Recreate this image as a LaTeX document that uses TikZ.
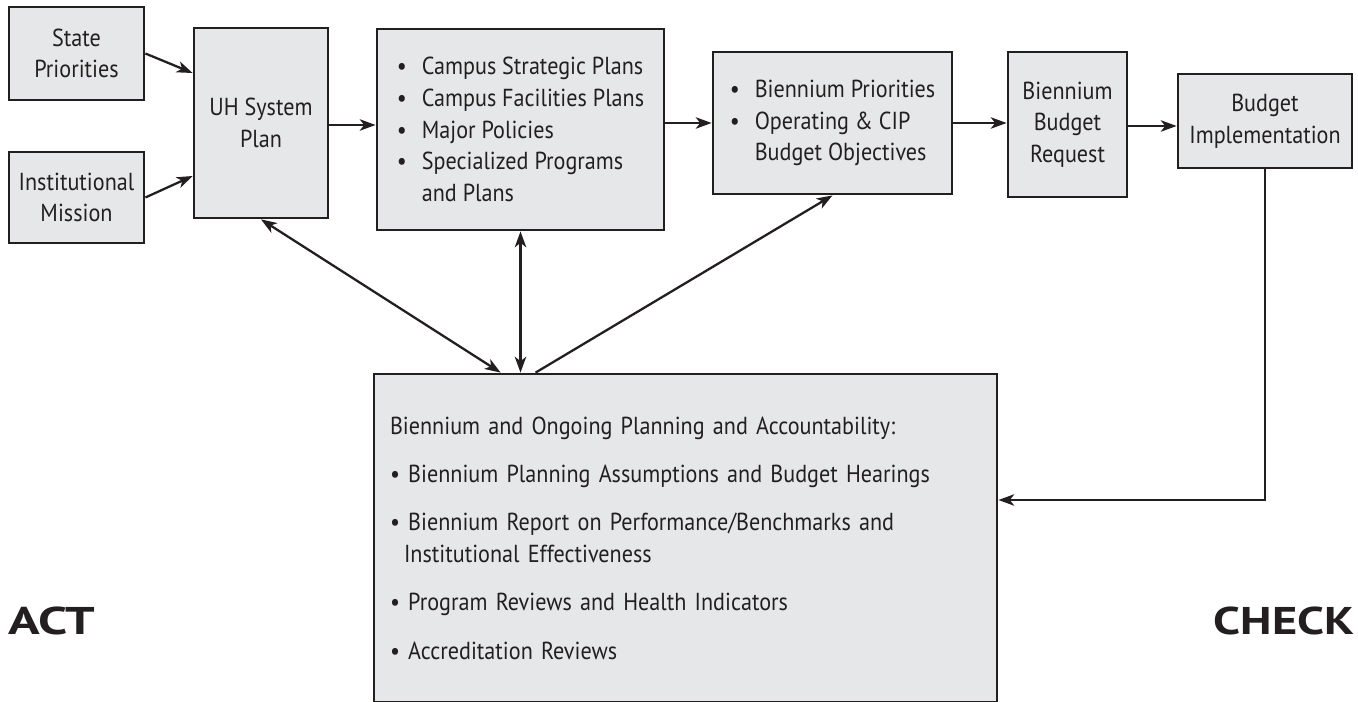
\documentclass[tikz,border=0pt]{standalone}
\usepackage{fontspec}
\setmainfont[FakeStretch=0.9]{PT Sans}
\usepackage{graphicx}
\usepackage{xcolor}
\usepackage{tikz}
\usetikzlibrary{arrows.meta, positioning}
\definecolor{boxgray}{HTML}{E6E7E8}
\definecolor{ink}{HTML}{231F20}
\newcommand{\bul}{\makebox[0.5cm][l]{\textbullet}}

\begin{document}
\begin{tikzpicture}
    \tikzset{
        plan_box/.style={draw=ink, fill=boxgray, line width=1.6pt, shape=rectangle, align=center, text=ink, inner sep=0pt, font=\fontsize{14}{18}\selectfont},
        list_box/.style={plan_box, align=left},
        flow/.style={draw=ink, line width=1.3pt, -{Stealth[length=9pt,width=6.5pt,inset=2.5pt]}},
        both_flow/.style={flow, {Stealth[length=9pt,width=6.5pt,inset=2.5pt]}-{Stealth[length=9pt,width=6.5pt,inset=2.5pt]}},
        phase/.style={text=ink, inner sep=0pt, font=\fontsize{22}{22}\selectfont\bfseries}
    }
    \useasboundingbox (0,0) rectangle (27.16,-14.04);

    % inputs
    \node[plan_box, minimum width=2.7cm, minimum height=1.86cm] (state) at (1.53,-1.07) {State\\Priorities};
    \node[plan_box, minimum width=2.7cm, minimum height=1.82cm] (mission) at (1.53,-3.95) {Institutional\\Mission};

    % planning chain
    \node[plan_box, minimum width=2.68cm, minimum height=3.8cm] (system) at (5.22,-2.46) {UH System\\Plan};
    \node[list_box, minimum width=5.74cm, minimum height=4.02cm] (campus) at (10.41,-2.59)
        {\bul Campus Strategic Plans\\\bul Campus Facilities Plans\\\bul Major Policies\\\bul Specialized Programs\\\hspace*{0.5cm}and Plans};
    \node[list_box, minimum width=4.78cm, minimum height=2.84cm] (priorities) at (16.65,-2.46)
        {\bul Biennium Priorities\\\bul Operating \& CIP\\\hspace*{0.5cm}Budget Objectives};
    \node[plan_box, minimum width=2.38cm, minimum height=2.9cm] (request) at (21.35,-2.49) {Biennium\\Budget\\Request};
    \node[plan_box, minimum width=3.48cm, minimum height=1.88cm] (implement) at (25.3,-2.42) {Budget\\Implementation};

    % accountability
    \node[list_box, minimum width=12.46cm, minimum height=6.56cm, text width=11.82cm] (review) at (13.71,-10.76)
        {\hyphenpenalty=10000
         Biennium and Ongoing Planning and Accountability:\\[9.5pt]
         \textbullet\ Biennium Planning Assumptions and Budget Hearings\\[9.5pt]
         \textbullet\ Biennium Report on Performance/Benchmarks and\\
         \hspace*{0.28cm}Institutional Effectiveness\\[9.5pt]
         \textbullet\ Program Reviews and Health Indicators\\[9.5pt]
         \textbullet\ Accreditation Reviews};

    \node[phase, anchor=base west] (act) at (0.16,-12.7) {\scalebox{1.5}[1]{ACT}};
    \node[phase, anchor=base east] (check) at (27.1,-12.7) {\scalebox{1.39}[1]{CHECK}};

    \coordinate (feedback) at ([yshift=0.76cm]review.east);

    \draw[flow] (state.east) -- ([yshift=1cm]system.west);
    \draw[flow] (mission.east) -- ([yshift=-1.06cm]system.west);
    \draw[flow] ([yshift=-0.04cm]system.east) -- ([yshift=-0.04cm]system.east -| campus.west);
    \draw[flow] (campus.east |- priorities.west) -- (priorities.west);
    \draw[flow] (priorities.east) -- (priorities.east -| request.west);
    \draw[flow] ([yshift=-0.03cm]request.east) -- ([yshift=-0.03cm]request.east -| implement.west);
    \draw[flow] (implement.south) |- (feedback);

    \draw[both_flow] (system.south) -- ([xshift=2.56cm]review.north west);
    \draw[both_flow] (campus.south) -- (campus.south |- review.north);
    \draw[flow] ([xshift=3.26cm]review.north west) -- (priorities.south);
\end{tikzpicture}
\end{document}
